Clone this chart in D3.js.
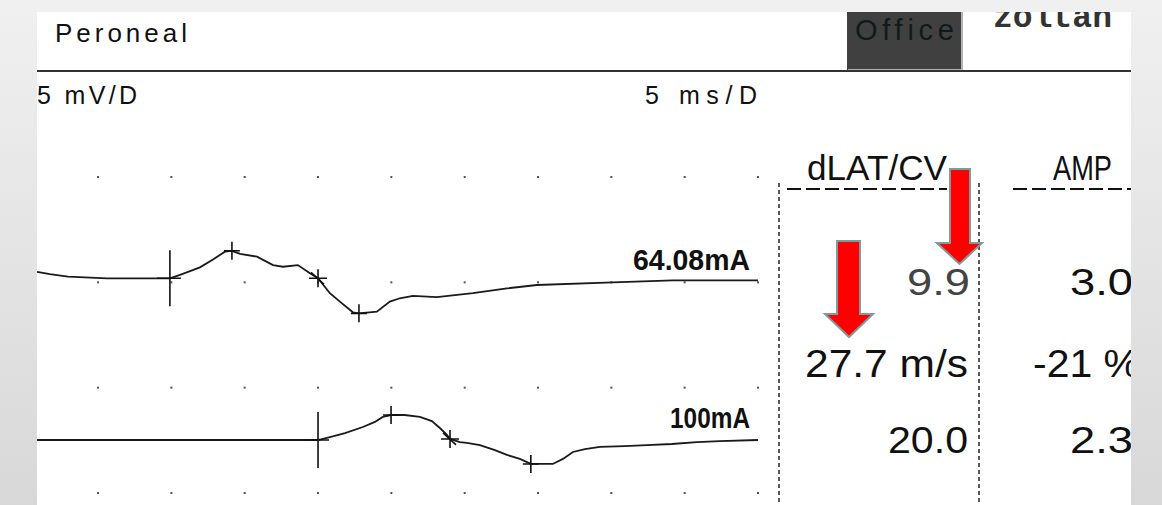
<!DOCTYPE html>
<html>
<head>
<meta charset="utf-8">
<script src="https://cdn.jsdelivr.net/npm/d3@7"></script>
<style>
  body { margin: 0; background: #e6e6e6; }
  svg { display: block; }
</style>
</head>
<body>
<div class="ncs-plot"></div>
<script>
// trace 1 (64.08mA), time in ms, amplitude in mV
const trace1_ms = [0.84, 1.72, 2.95, 5.61, 9.9, 10.59, 11.95, 12.84, 13.66, 14.13, 14.68, 15.84, 16.93, 17.61, 18.63, 19.45, 20.0, 20.81, 21.49, 22.38, 22.79, 24.01, 24.9, 25.58, 26.47, 28.1, 30.56, 32.88, 34.92, 40.1, 44.19, 50];
const trace1_mv = [0.31, 0.2, 0.08, 0, 0, 0.16, 0.52, 0.9, 1.27, 1.31, 1.16, 1.03, 0.63, 0.55, 0.63, 0.24, 0, -0.71, -1.11, -1.62, -1.67, -1.59, -1.11, -0.95, -0.84, -0.9, -0.71, -0.48, -0.32, -0.19, -0.1, -0.1];

// trace 2 (100mA)
const trace2_ms = [0.84, 19.1, 20.0, 20.81, 21.84, 23.06, 23.88, 24.42, 24.98, 25.9, 26.95, 27.76, 28.31, 28.79, 29.0, 29.67, 30.15, 31.04, 32.06, 32.88, 33.76, 34.51, 36.01, 36.7, 37.38, 38.2, 39.22, 40.92, 42.42, 44.12, 45.83, 47.4, 50];
const trace2_mv = [0, 0, 0, 0.14, 0.33, 0.62, 0.86, 1.1, 1.19, 1.19, 1.1, 0.9, 0.57, 0.24, 0.05, -0.1, -0.14, -0.24, -0.48, -0.71, -0.9, -1.14, -1.14, -0.9, -0.57, -0.43, -0.33, -0.29, -0.24, -0.19, -0.1, -0.05, 0];

// cursor marks: onset, peak, crossing, trough
const marks1_ms = [9.9, 14.13, 20.0, 22.79];
const marks1_mv = [0, 1.31, 0, -1.67];
const marks2_ms = [20.0, 24.98, 29.0, 34.51];
const marks2_mv = [0, 1.19, 0.05, -1.14];

const stimLabels = ['64.08mA', '100mA'];
const latValues = ['9.9', '20.0'];
const ampValues = ['3.0', '2.3'];
const cvValue = '27.7 m/s';
const ampDrop = '-21 %';
const headers = ['dLAT/CV', 'AMP'];

const width = 1162;
const height = 505;

const svg = d3.select('.ncs-plot')
  .append('svg')
  .attr('width', width)
  .attr('height', height);

const defs = svg.append('defs');
const grad = defs.append('linearGradient')
  .attr('id', 'bg').attr('x1', 0).attr('y1', 0).attr('x2', 0).attr('y2', 1);
grad.append('stop').attr('offset', '0%').attr('stop-color', '#f0f0f0');
grad.append('stop').attr('offset', '100%').attr('stop-color', '#d8d8d8');

defs.append('clipPath').attr('id', 'panel')
  .append('rect').attr('x', 37).attr('y', 12).attr('width', 1094).attr('height', 493);

svg.append('rect').attr('width', width).attr('height', height).attr('fill', 'url(#bg)');

const g = svg.append('g').attr('clip-path', 'url(#panel)');
g.append('rect').attr('x', 37).attr('y', 12).attr('width', 1094).attr('height', 493).attr('fill', 'white');

// scales: 5 ms/D horizontally, 5 mV/D vertically
const x = d3.scaleLinear().domain([0, 50]).range([24.7, 758]);
const rowY = d3.scaleLinear().domain([0, 3]).range([177, 493]);
const y1 = d3.scaleLinear().domain([0, 1]).range([278.3, 257.3]);
const y2 = d3.scaleLinear().domain([0, 1]).range([440, 419]);

// grid dots
const cols = d3.range(1, 11).map(d => d * 5);
const rows = d3.range(0, 4);
const dots = [];
rows.forEach(r => cols.forEach(c => dots.push({c, r})));
g.selectAll('.dot')
  .data(dots)
  .enter()
  .append('rect')
  .attr('class', 'dot')
  .attr('x', d => x(d.c) - 1)
  .attr('y', d => rowY(d.r) - 1)
  .attr('width', 2)
  .attr('height', 2)
  .attr('fill', '#555');

function txt(parent, s, xx, yy, size, w, opts = {}) {
  const t = parent.append('text')
    .text(s)
    .attr('x', xx)
    .attr('y', yy)
    .attr('font-family', opts.family || 'Liberation Sans, Arial, sans-serif')
    .attr('font-size', size)
    .attr('fill', opts.fill || '#111');
  if (opts.weight) t.attr('font-weight', opts.weight);
  if (w) t.attr('textLength', w).attr('lengthAdjust', opts.adjust || 'spacingAndGlyphs');
  return t;
}

// header
txt(g, 'Peroneal', 55, 42, 26, 132, {adjust: 'spacing'});

g.append('rect').attr('x', 847).attr('y', 10).attr('width', 116).attr('height', 61).attr('fill', '#404040');
g.append('path').attr('d', 'M962,12 V70 H848').attr('fill', 'none').attr('stroke', '#d8d8d8').attr('stroke-width', 1.5);
txt(g, 'Office', 855, 40, 29, 99, {fill: '#111a1a', adjust: 'spacing'});
txt(g, 'zoltan', 993, 27, 33, 119, {family: 'Liberation Mono, Courier New, monospace', fill: '#333', weight: 'bold'});

g.append('line').attr('x1', 37).attr('x2', 1131).attr('y1', 71).attr('y2', 71)
  .attr('stroke', '#333').attr('stroke-width', 2);

txt(g, '5 mV/D', 37, 104, 25, 100, {adjust: 'spacing'});
txt(g, '5 ms/D', 645, 104, 25, 112, {adjust: 'spacing'});

// traces
const line1 = d3.line().x(d => x(d[0])).y(d => y1(d[1]));
const line2 = d3.line().x(d => x(d[0])).y(d => y2(d[1]));

g.append('path')
  .datum(d3.zip(trace1_ms, trace1_mv))
  .attr('d', line1)
  .attr('fill', 'none')
  .attr('stroke', '#1a1a1a')
  .attr('stroke-width', 1.8);

g.append('path')
  .datum(d3.zip(trace2_ms, trace2_mv))
  .attr('d', line2)
  .attr('fill', 'none')
  .attr('stroke', '#1a1a1a')
  .attr('stroke-width', 1.8);

// cursor marks
function drawMarks(msArr, mvArr, ys) {
  msArr.forEach((t, i) => {
    const cx = x(t), cy = ys(mvArr[i]);
    let p;
    if (i == 0) {
      p = `M${cx},${cy - 28}V${cy + 28}M${cx - 13},${cy}H${cx + 11}`;
    } else if (i == 2) {
      p = `M${cx},${cy - 9}V${cy + 9}M${cx - 9},${cy}H${cx + 9}M${cx - 7},${cy - 6}L${cx + 6},${cy + 6}`;
    } else {
      p = `M${cx},${cy - 9}V${cy + 9}M${cx - 8},${cy}H${cx + 8}`;
    }
    g.append('path').attr('d', p).attr('stroke', '#111').attr('stroke-width', 1.6).attr('fill', 'none');
  });
}
drawMarks(marks1_ms, marks1_mv, y1);
drawMarks(marks2_ms, marks2_mv, y2);

txt(g, stimLabels[0], 750, 270, 30, 117, {weight: 'bold'}).attr('text-anchor', 'end');
txt(g, stimLabels[1], 750, 428, 30, 80, {weight: 'bold'}).attr('text-anchor', 'end');

// result table
[779, 979].forEach(xx => {
  g.append('line').attr('x1', xx).attr('x2', xx).attr('y1', 183).attr('y2', 505)
    .attr('stroke', '#222').attr('stroke-width', 1.5).attr('stroke-dasharray', '4,3');
});

txt(g, headers[0], 807, 180, 35, 140);
txt(g, headers[1], 1053, 180, 35, 59);
g.append('line').attr('x1', 787).attr('x2', 947).attr('y1', 189).attr('y2', 189)
  .attr('stroke', '#111').attr('stroke-width', 2.2).attr('stroke-dasharray', '14,5');
g.append('line').attr('x1', 1013).attr('x2', 1131).attr('y1', 189).attr('y2', 189)
  .attr('stroke', '#111').attr('stroke-width', 2.2).attr('stroke-dasharray', '14,5');

txt(g, latValues[0], 907, 295, 37, 63, {fill: '#444'});
txt(g, ampValues[0], 1070, 295, 37, 63);
txt(g, cvValue, 805, 377, 38, 163);
txt(g, ampDrop, 1033, 377, 38, 107);
txt(g, latValues[1], 888, 453, 37, 80);
txt(g, ampValues[1], 1070, 453, 37, 63);

// red arrows
function arrow(x0, x1, top, neck, hx0, hx1, tip) {
  const mid = (hx0 + hx1) / 2;
  return `M${x0},${top}H${x1}V${neck}H${hx1}L${mid},${tip}L${hx0},${neck}H${x0}Z`;
}
g.append('path').attr('d', arrow(950, 970, 169, 243, 937, 982, 264))
  .attr('fill', '#ff0000').attr('stroke', '#7f9b9b').attr('stroke-width', 2);
g.append('path').attr('d', arrow(837, 860, 241, 314, 825, 873, 337))
  .attr('fill', '#ff0000').attr('stroke', '#7f9b9b').attr('stroke-width', 2);
</script>
</body>
</html>
